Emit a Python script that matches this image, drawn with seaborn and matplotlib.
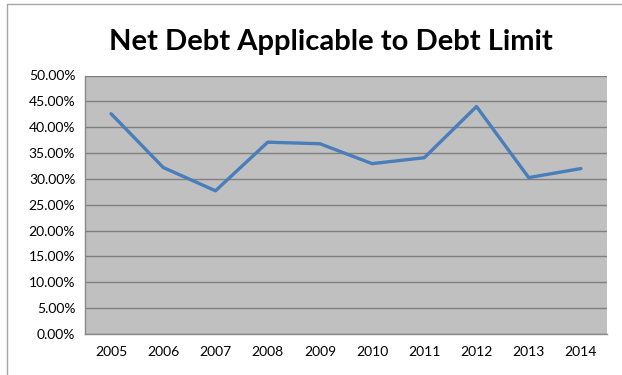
import matplotlib
matplotlib.use("Agg")
import matplotlib.pyplot as plt
import seaborn as sns
import pandas as pd
import numpy as np
from matplotlib.ticker import FuncFormatter, FixedLocator
from matplotlib.lines import Line2D

years = ["2005", "2006", "2007", "2008", "2009", "2010", "2011", "2012", "2013", "2014"]
ratios = [42.6, 32.2, 27.7, 37.1, 36.8, 32.95, 34.1, 44.0, 30.25, 32.0]
title = "Net Debt Applicable to Debt Limit"

df = pd.DataFrame({"year": years, "ratio": ratios})

sns.set_style("white")
plt.rcParams["font.family"] = ["Lato", "DejaVu Sans"]

fig = plt.figure(figsize=(6.22, 3.75), dpi=100)
ax = fig.add_axes([85/622, 1-334/375, (607-85)/622, (334-75.5)/375])
ax.set_facecolor("#C0C0C0")

sns.lineplot(data=df, x="year", y="ratio", ax=ax, color="#4A7EBB", linewidth=2.4, sort=False)

ax.set_ylim(0, 50)
ax.set_xlim(-0.5, len(years) - 0.5)
ax.set_yticks(np.arange(0, 50.1, 5))
ax.yaxis.set_major_formatter(FuncFormatter(lambda v, p: f"{v:.2f}%"))
ax.set_xticks(range(len(years)))
ax.set_xticklabels(years)
ax.xaxis.set_minor_locator(FixedLocator(np.arange(-0.5, len(years), 1.0)))
ax.tick_params(axis="x", which="major", length=0, pad=9, labelsize=10, colors="black")
ax.tick_params(axis="x", which="minor", length=4, width=0.8, color="#888888", direction="out")
ax.tick_params(axis="y", which="major", length=4, width=0.8, color="#888888", direction="out", labelsize=10, pad=3)
for lbl in ax.get_yticklabels():
    lbl.set_color("black")

ax.grid(axis="y", color="#808080", linewidth=1.0)
ax.set_axisbelow(True)
for s in ["top", "right"]:
    ax.spines[s].set_visible(False)
for s in ["left", "bottom"]:
    ax.spines[s].set_color("#888888")
    ax.spines[s].set_linewidth(1.0)
ax.set_xlabel("")
ax.set_ylabel("")

fig.text(331/622, 1-42/375, title, ha="center", va="center", fontsize=21, fontweight="bold", color="black")

# chart-area border (top and left edges visible in the reference)
fig.lines.append(Line2D([7.5/622, 7.5/622], [0, 1-3.5/375], transform=fig.transFigure, color="#A6A6A6", linewidth=1.0))
fig.lines.append(Line2D([7.5/622, 1], [1-3.5/375, 1-3.5/375], transform=fig.transFigure, color="#A6A6A6", linewidth=1.0))

fig.savefig("out.png", dpi=100)
